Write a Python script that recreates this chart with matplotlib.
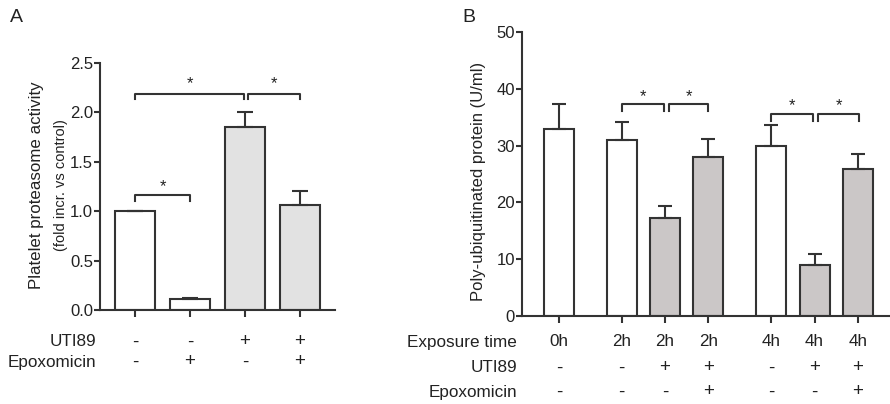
import numpy as np
import matplotlib
matplotlib.use("Agg")
import matplotlib.pyplot as plt
import matplotlib.transforms as mtransforms

plt.rcParams['font.family'] = ['Liberation Sans', 'DejaVu Sans']

## panel A data
a_vals = [1.0, 0.11, 1.85, 1.06]
a_err = [0.0, 0.01, 0.15, 0.14]
a_colors = ['white', 'white', '#e2e2e2', '#e2e2e2']
a_uti = ['-', '-', '+', '+']
a_epo = ['-', '+', '-', '+']

## panel B data
b_time = ['0h', '2h', '2h', '2h', '4h', '4h', '4h']
b_vals = [33.0, 31.0, 17.3, 28.0, 30.0, 9.0, 25.9]
b_err = [4.3, 3.2, 2.0, 3.2, 3.6, 2.0, 2.7]
b_colors = ['white', 'white', '#cbc7c7', '#cbc7c7', 'white', '#cbc7c7', '#cbc7c7']
b_uti = ['-', '-', '+', '+', '-', '+', '+']
b_epo = ['-', '-', '-', '+', '-', '-', '+']
b_pos = [0, 1.45, 2.45, 3.45, 4.9, 5.9, 6.9]

W, H = 890, 404
fig = plt.figure(figsize=(W / 100, H / 100), dpi=100)

def px_axes(l, t, r, b):
    return fig.add_axes([l / W, 1 - b / H, (r - l) / W, (b - t) / H])

edge = '#333333'
txt = '#222222'
lw = 1.5
fs_row = 12.3

def style(ax):
    for s in ['top', 'right']:
        ax.spines[s].set_visible(False)
    for s in ['left', 'bottom']:
        ax.spines[s].set_linewidth(lw)
        ax.spines[s].set_color(edge)
    ax.tick_params(axis='y', width=lw, length=4, color=edge, pad=1)
    ax.tick_params(axis='x', width=lw, length=5, color=edge, labelbottom=False)

def bracket(ax, x1, x2, y, drop, star_y):
    ax.plot([x1, x1, x2, x2], [y - drop, y, y, y - drop], color=edge, lw=lw,
            clip_on=False)
    ax.text((x1 + x2) / 2, star_y, '*', ha='center', va='center', fontsize=12,
            color=txt)

def rows(ax, xs, labels_list, names, ys, right_px):
    tr = mtransforms.blended_transform_factory(ax.transData, fig.transFigure)
    for labels, y in zip(labels_list, ys):
        for x, lab in zip(xs, labels):
            size = 13.5 if lab in ('+', '-') else fs_row
            ax.text(x, 1 - y / H, lab, transform=tr, ha='center', va='center',
                    fontsize=size, color=txt)
    for name, y in zip(names, ys):
        fig.text(right_px / W, 1 - y / H, name, ha='right', va='center',
                 fontsize=fs_row, color=txt)

## panel A
axA = px_axes(100, 63, 335, 310)
xa = np.arange(len(a_vals))
axA.bar(xa, a_vals, 0.73, color=a_colors, edgecolor=edge, linewidth=lw,
        yerr=[np.zeros(4), a_err],
        error_kw=dict(elinewidth=lw, ecolor=edge, capsize=6, capthick=lw))
axA.set_xlim(-0.64, 3.64)
axA.set_ylim(0, 2.5)
axA.set_yticks([0, 0.5, 1.0, 1.5, 2.0, 2.5])
axA.set_yticklabels(['0.0', '0.5', '1.0', '1.5', '2.0', '2.5'], fontsize=12,
                    color=txt)
axA.set_xticks(xa)
style(axA)
bracket(axA, 0, 1, 1.16, 0.06, 1.25)
bracket(axA, 0, 1.98, 2.19, 0.05, 2.29)
bracket(axA, 2.05, 3.0, 2.19, 0.05, 2.29)
fig.text(37 / W, 1 - 185 / H, 'Platelet proteasome activity', rotation=90,
         ha='center', va='center', fontsize=12.2, color=txt)
fig.text(61 / W, 1 - 185 / H, '(fold incr. vs control)', rotation=90,
         ha='center', va='center', fontsize=10.5, color=txt)
rows(axA, xa, [a_uti, a_epo], ['UTI89', 'Epoxomicin'], [342, 362], 96)
fig.text(10 / W, 1 - 18 / H, 'A', ha='left', va='center', fontsize=14, color=txt)

## panel B
axB = px_axes(522, 32, 890, 316)
axB.bar(b_pos, b_vals, 0.69, color=b_colors, edgecolor=edge, linewidth=lw,
        yerr=[np.zeros(7), b_err],
        error_kw=dict(elinewidth=lw, ecolor=edge, capsize=5, capthick=lw))
axB.set_xlim(-0.85, 7.64)
axB.set_ylim(0, 50)
axB.set_yticks([0, 10, 20, 30, 40, 50])
axB.set_yticklabels(['0', '10', '20', '30', '40', '50'], fontsize=12,
                    color=txt)
axB.set_xticks(b_pos)
style(axB)
bracket(axB, 1.45, 2.42, 37.3, 1.2, 38.7)
bracket(axB, 2.55, 3.45, 37.3, 1.2, 38.7)
bracket(axB, 4.9, 5.87, 35.5, 1.2, 37.0)
bracket(axB, 5.98, 6.93, 35.5, 1.2, 37.0)
fig.text(478 / W, 1 - 181 / H, 'Poly-ubiquitinated protein (U/ml)', rotation=90,
         ha='center', va='center', fontsize=12, color=txt)
rows(axB, b_pos, [b_time, b_uti, b_epo],
     ['Exposure time', 'UTI89', 'Epoxomicin'], [342, 368, 392], 517)
fig.text(462 / W, 1 - 18 / H, 'B', ha='left', va='center', fontsize=14, color=txt)

fig.savefig('out.png', dpi=100)
